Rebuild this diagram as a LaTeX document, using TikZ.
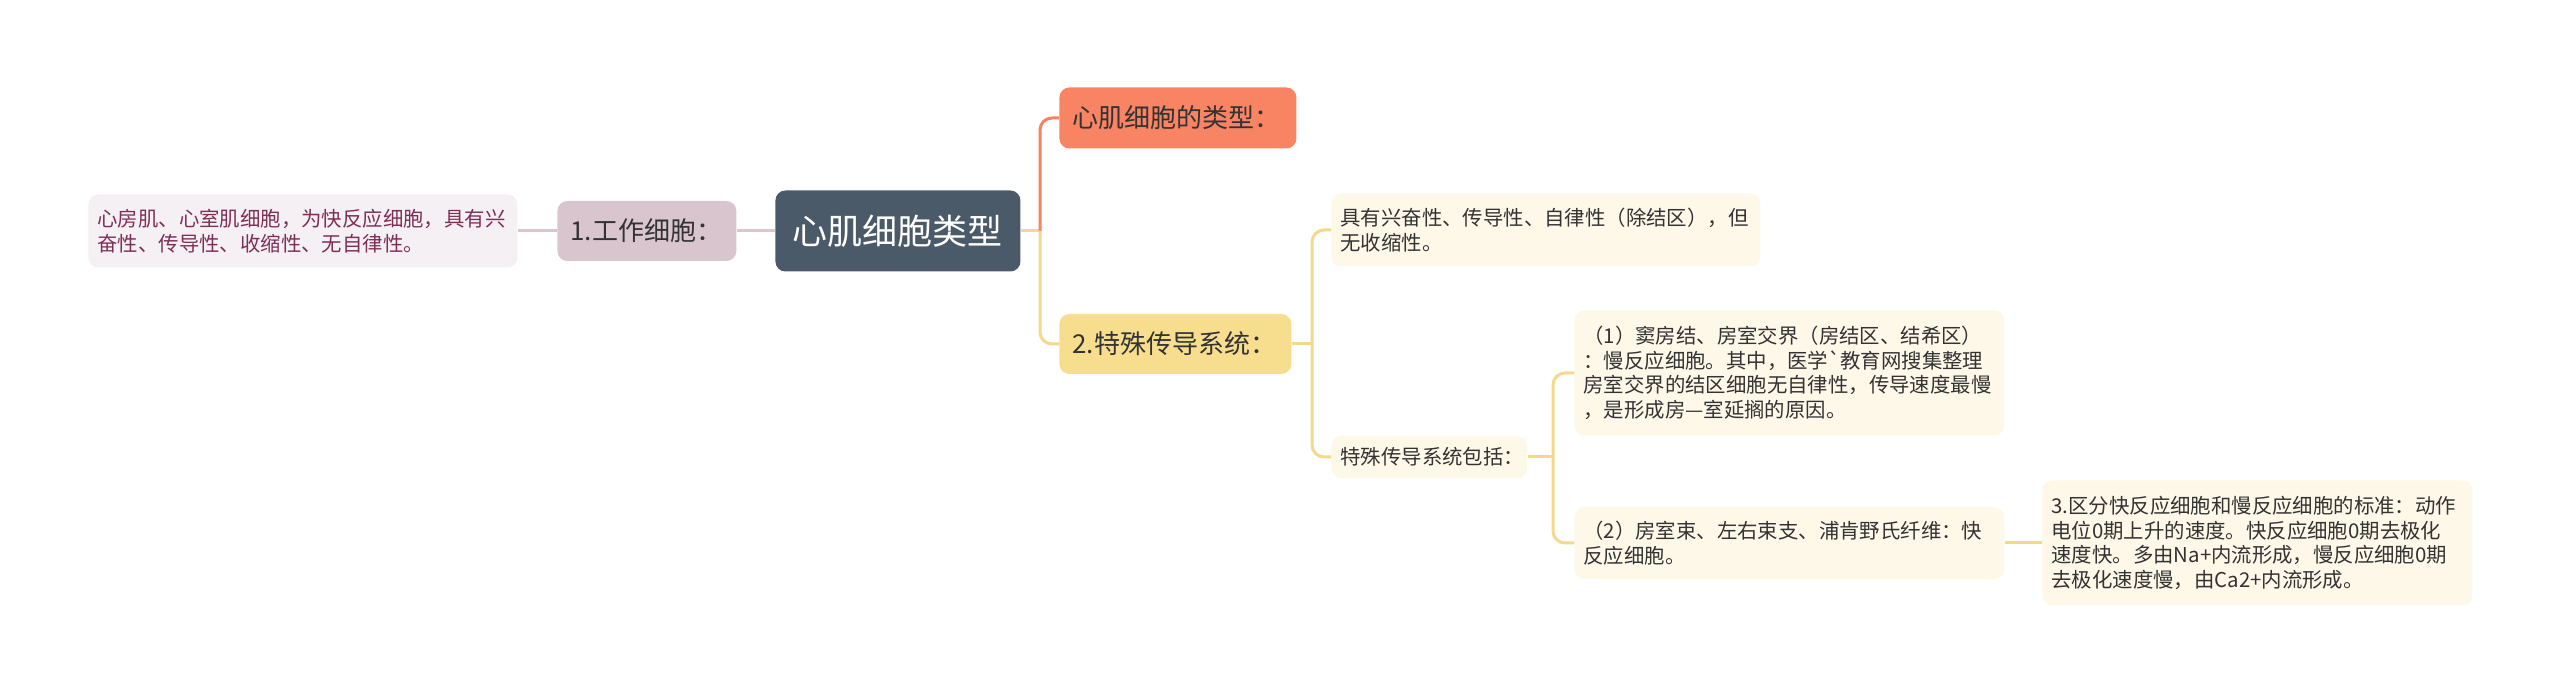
\documentclass[tikz,border=0pt]{standalone}
\usepackage{fontspec}
\newfontfamily\cjk{Noto Sans CJK SC}
\definecolor{cmain}{HTML}{4B5A69}
\definecolor{corange}{HTML}{F88463}
\definecolor{cyellow}{HTML}{F7DE8F}
\definecolor{ccream}{HTML}{FEF8E9}
\definecolor{cmauve}{HTML}{D9C5CE}
\definecolor{cdesc}{HTML}{F5F0F3}
\definecolor{cplum}{HTML}{7E2F58}
\definecolor{ctext}{HTML}{333333}
\definecolor{lorange}{HTML}{F6825F}
\definecolor{lyellow}{HTML}{F4D98C}
\definecolor{lpink}{HTML}{DCC5CE}
\begin{document}
\begin{tikzpicture}[x=0.5pt,y=-0.5pt]
\tikzset{
  bx/.style={rounded corners=5pt, anchor=west, align=left, inner ysep=0pt, text=ctext},
  small/.style={bx, font=\cjk\fontsize{10.2pt}{12.3pt}\selectfont, inner xsep=4.5pt},
  mid/.style={bx, font=\cjk\fontsize{13pt}{15.5pt}\selectfont, inner xsep=6.5pt},
  conn/.style={line width=1.5pt, rounded corners=6pt},
}
\useasboundingbox (0,0) rectangle (2560,694);
% nodes
\node[bx, fill=cmain, text=white, align=center, inner xsep=0pt, font=\cjk\fontsize{17.5pt}{21pt}\selectfont,
  minimum width=122.5pt, minimum height=40.5pt] (c) at (775,231) {心肌细胞类型};
\node[mid, fill=cmauve, text width=76.5pt, minimum height=30pt] (w) at (557,231) {1.工作细胞：};
\node[small, fill=cdesc, text=cplum, text width=205.5pt, minimum height=36.5pt] (d) at (88,231)
  {心房肌、心室肌细胞，为快反应细胞，具有兴\\奋性、传导性、收缩性、无自律性。};
\node[mid, fill=corange, text width=105.5pt, minimum height=30.5pt] (o) at (1059,118) {心肌细胞的类型：};
\node[mid, fill=cyellow, text width=103pt, minimum height=30pt] (y) at (1059,344) {2.特殊传导系统：};
\node[small, fill=ccream, text width=205.5pt, minimum height=36.5pt] (a) at (1331,230)
  {具有兴奋性、传导性、自律性（除结区），但\\无收缩性。};
\node[small, fill=ccream, text width=89pt, minimum height=21pt] (t) at (1331,457) {特殊传导系统包括：};
\node[small, fill=ccream, text width=206pt, minimum height=62.5pt] (p1) at (1574,373)
  {（1）窦房结、房室交界（房结区、结希区）\\：慢反应细胞。其中，医学\symbol{"60}教育网搜集整理\\房室交界的结区细胞无自律性，传导速度最慢\\，是形成房—室延搁的原因。};
\node[small, fill=ccream, text width=206pt, minimum height=36pt] (p2) at (1574,543)
  {（2）房室束、左右束支、浦肯野氏纤维：快\\反应细胞。};
\node[small, fill=ccream, text width=206pt, minimum height=62.5pt] (p3) at (2042,543)
  {3.区分快反应细胞和慢反应细胞的标准：动作\\电位0期上升的速度。快反应细胞0期去极化\\速度快。多由Na+内流形成，慢反应细胞0期\\去极化速度慢，由Ca2+内流形成。};
% junctions
\coordinate (j1) at (1040,231);
\coordinate (j2) at (1312,344);
\coordinate (j3) at (1553,457);
% connectors
\draw[conn, lpink] (d.east) -- (w.west);
\draw[conn, lpink] (w.east) -- (c.west);
\draw[conn, lyellow] (c.east) -- (j1);
\draw[conn, lorange] (j1) |- (o.west);
\draw[conn, lyellow] (j1) |- (y.west);
\draw[conn, lyellow] (y.east) -- (j2);
\draw[conn, lyellow] (j2) |- (a.west);
\draw[conn, lyellow] (j2) |- (t.west);
\draw[conn, lyellow] (t.east) -- (j3);
\draw[conn, lyellow] (j3) |- (p1.west);
\draw[conn, lyellow] (j3) |- (p2.west);
\draw[conn, lyellow] (p2.east) -- (p3.west);
\end{tikzpicture}
\end{document}
